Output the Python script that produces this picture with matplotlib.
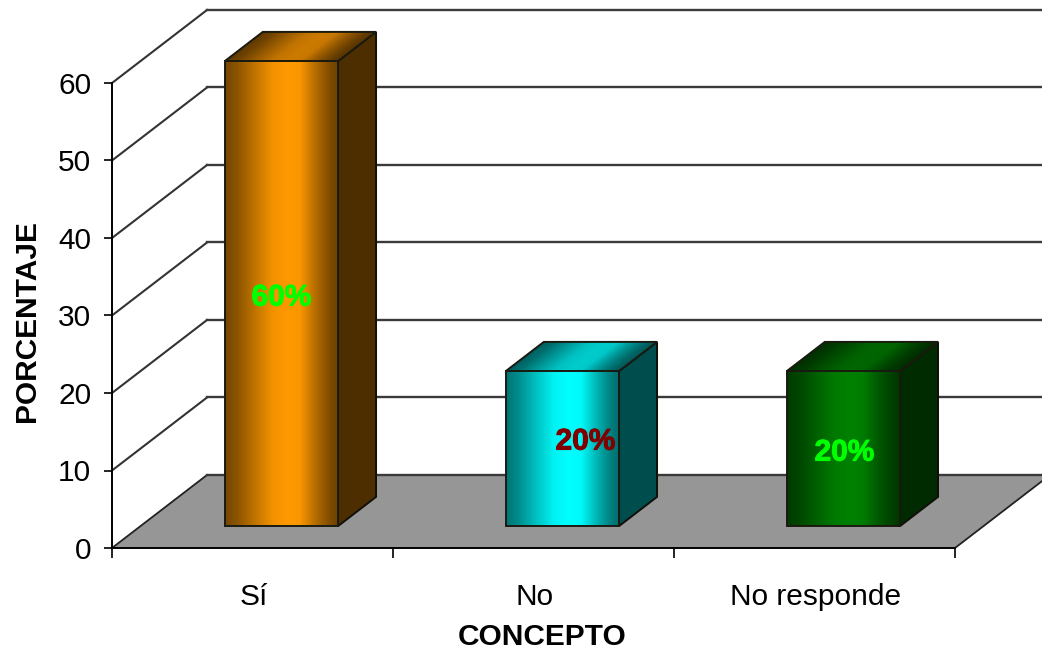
import numpy as np
import matplotlib
matplotlib.use('Agg')
import matplotlib.pyplot as plt
import matplotlib.patheffects as pe
from matplotlib.colors import to_rgb
from matplotlib.patches import Polygon

categories = ['Sí', 'No', 'No responde']
values = [60, 20, 20]
labels = ['60%', '20%', '20%']
y_ticks = [0, 10, 20, 30, 40, 50, 60]

# colours
front_colors = ['#ff9900', '#00ffff', '#008000']
side_colors = ['#4d2e00', '#004d4d', '#002a00']
label_colors = ['#00ff00', '#800000', '#00ff00']
# text shift from the bar centre (px)
label_shift = [(0, -4), (23, 7), (1, -4)]

plt.rcParams['font.family'] = ['Liberation Sans', 'DejaVu Sans']

W, H = 1042, 650
x0_px, y0_px = 112, 548
px_x = 281.0   # pixels per category
px_y = 7.75    # pixels per percent
depth_x = 95 / px_x
depth_y = 73 / px_y
FS = 21.5

fig = plt.figure(figsize=(W / 100, H / 100), dpi=100)
ax = fig.add_axes([0, 0, 1, 1])
ax.patch.set_alpha(0)

def skew(x, y, f):
    # move a point back into the depth of the chart
    return x + f * depth_x, y + f * depth_y

def shade(t):
    return np.interp(t, [0, 0.1, 0.25, 0.42, 0.55, 0.66, 0.8, 0.92, 1],
                     [0.46, 0.54, 0.74, 0.95, 1, 0.98, 0.7, 0.5, 0.42])

def face(pts, base, width, slant=0.0, k=1.0, zorder=5):
    pts = np.array(pts)
    x1, x2 = pts[:, 0].min(), pts[:, 0].max()
    y1, y2 = pts[:, 1].min(), pts[:, 1].max()
    xx, yy = np.meshgrid(np.linspace(x1, x2, 300), np.linspace(0, 1, 60))
    t = np.clip((xx - x1 - slant * yy) / width, 0, 1)
    rgb = np.clip(shade(t)[..., None] * k * np.array(to_rgb(base)), 0, 1)
    img = ax.imshow(rgb, extent=(x1, x2, y1, y2), origin='lower',
                    aspect='auto', interpolation='bilinear', zorder=zorder)
    img.set_clip_path(Polygon(pts, transform=ax.transData))
    ax.add_patch(Polygon(pts, closed=True, fill=False, ec='#1a1a10', lw=1.4, zorder=zorder + 1))

# floor
xr = len(categories)
floor = [skew(0, 0, 0), skew(xr, 0, 0), skew(xr, 0, 1), skew(0, 0, 1)]
ax.add_patch(Polygon(floor, closed=True, fc='#969696', ec='none', zorder=1))
ax.plot([xr, skew(xr, 0, 1)[0]], [0, depth_y], color='#222222', lw=1.3, zorder=2)
ax.plot([0, depth_x], [0, depth_y], color='#222222', lw=1.3, zorder=2)

# gridlines on the wall
for v in y_ticks:
    xb, yb = skew(0, v, 1)
    if v > 0:
        ax.plot([0, xb], [v, yb], color='#333333', lw=1.5, zorder=2)
    ax.plot([xb, skew(xr, v, 1)[0]], [yb, yb], color='#3a3a3a', lw=1.7, zorder=2)

# bars
bw = 0.403
for i, v in enumerate(values):
    left, base_y = skew(i + 0.3, 0, 0.3)
    right = left + bw
    top = base_y + v
    dx, dy = 0.4 * depth_x, 0.4 * depth_y
    ax.add_patch(Polygon([(right, base_y), (right + dx, base_y + dy), (right + dx, top + dy), (right, top)],
                         closed=True, fc=side_colors[i], ec='#101008', lw=1.4, zorder=4))
    face([(left, top), (right, top), (right + dx, top + dy), (left + dx, top + dy)], front_colors[i],
         bw, slant=dx, k=0.8)
    face([(left, base_y), (right, base_y), (right, top), (left, top)], front_colors[i], bw, zorder=7)
    sx, sy = label_shift[i]
    ax.text((left + right) / 2 + sx / px_x, (base_y + top) / 2 + sy / px_y, labels[i], color=label_colors[i],
            ha='center', va='center', fontsize=FS, fontweight='bold', zorder=10,
            path_effects=[pe.withStroke(linewidth=0.7, foreground=label_colors[i])])

ax.set_xlim(-x0_px / px_x, (W - x0_px) / px_x)
ax.set_ylim(-(H - y0_px) / px_y, y0_px / px_y)

for s in ['top', 'right']:
    ax.spines[s].set_visible(False)
ax.spines['left'].set_position(('data', 0))
ax.spines['bottom'].set_position(('data', 0))
ax.spines['left'].set_bounds(0, 60)
ax.spines['bottom'].set_bounds(0, xr)
ax.spines['left'].set_linewidth(1.4)
ax.spines['bottom'].set_linewidth(1.4)
ax.spines['left'].set_zorder(3)
ax.spines['bottom'].set_zorder(3)

ax.set_yticks(y_ticks)
ax.tick_params(axis='y', length=6, width=1.2, pad=9, labelsize=FS)
ax.set_xticks(range(xr + 1))
ax.set_xticklabels([])
ax.tick_params(axis='x', length=7.5, width=1.2)
ax.set_xticks(np.arange(xr) + 0.505, minor=True)
ax.set_xticklabels(categories, minor=True, fontsize=FS)
ax.tick_params(axis='x', which='minor', length=0, pad=25.5)

ax.set_xlabel('CONCEPTO', fontsize=FS, fontweight='bold')
ax.xaxis.set_label_coords(542 / W, 1 - 637 / H)
ax.xaxis.label.set_va('center')
ax.set_ylabel('PORCENTAJE', fontsize=FS, fontweight='bold')
ax.yaxis.set_label_coords(27 / W, 1 - 321 / H)
ax.yaxis.label.set_va('center')

fig.savefig('out.png', dpi=100)
